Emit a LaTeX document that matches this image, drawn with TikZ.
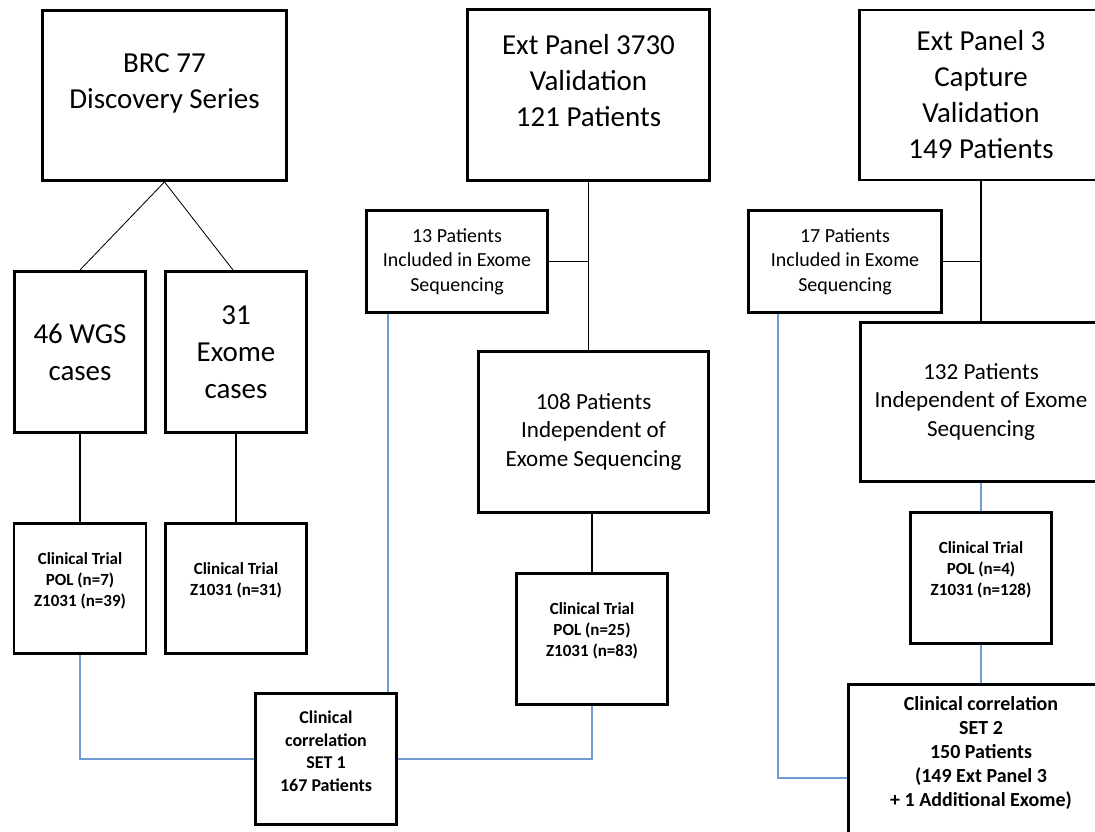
\documentclass[tikz,border=0pt]{standalone}
\usepackage{fontspec}
\setmainfont{Carlito}
\definecolor{linkblue}{RGB}{112, 155, 208}
\usepackage{tikz}
\usetikzlibrary{calc, positioning}

\begin{document}
\begin{tikzpicture}[x=0.025cm, y=-0.025cm,
    box/.style={draw, line width=2pt, inner sep=0pt, align=center},
    bigtxt/.style={font=\fontsize{20.6}{25.6}\selectfont, align=center},
    casetxt/.style={font=\fontsize{20.6}{26.3}\selectfont},
    midtxt/.style={font=\fontsize{16.4}{20.3}\selectfont},
    subtxt/.style={font=\fontsize{14.2}{17.4}\selectfont},
    trialtxt/.style={font=\bfseries\fontsize{12.1}{15}\selectfont, align=center, yshift=0.2cm},
    link/.style={line width=0.8pt},
    bluelink/.style={line width=1pt, linkblue}]
  \useasboundingbox (0,0) rectangle (1095,832);
  \clip (0,0) rectangle (1095,832);

  % Discovery series
  \node[box, minimum width=6.1cm, minimum height=4.25cm,
    label={[bigtxt, yshift=0.3cm]center:{BRC 77\\Discovery Series}}] (brc) at (164.5,95.5) {};
  \node[box, casetxt, minimum width=3.28cm, minimum height=4.03cm] (wgs) at (80,352) {46 WGS\\cases};
  \node[box, casetxt, minimum width=3.53cm, minimum height=4.03cm] (exo) at (236,352) {31\\Exome\\cases};
  \node[box, minimum width=3.3cm, minimum height=3.25cm,
    label={[trialtxt]center:{Clinical Trial\\POL (n=7)\\Z1031 (n=39)}}] (ct1) at (80,588.5) {};
  \node[box, minimum width=3.53cm, minimum height=3.25cm,
    label={[trialtxt]center:{Clinical Trial\\Z1031 (n=31)}}] (ct2) at (236,588.5) {};
  \node[box, minimum width=3.53cm, minimum height=3.28cm,
    label={[trialtxt, font=\bfseries\fontsize{12.8}{16}\selectfont]center:{Clinical\\correlation\\SET 1\\167 Patients}}] (set1) at (326,759) {};

  % Ext Panel 3730
  \node[box, minimum width=6.05cm, minimum height=4.28cm,
    label={[bigtxt, yshift=0.35cm]center:{Ext Panel 3730\\Validation\\121 Patients}}] (ext1) at (588.5,95) {};
  \node[box, subtxt, minimum width=4.53cm, minimum height=2.55cm] (p13) at (457,261.5) {13 Patients\\Included in Exome\\Sequencing};
  \node[box, midtxt, minimum width=5.75cm, minimum height=4.03cm] (p108) at (593.5,432) {108 Patients\\Independent of\\Exome Sequencing};
  \node[box, minimum width=3.78cm, minimum height=3.28cm,
    label={[trialtxt]center:{Clinical Trial\\POL (n=25)\\Z1031 (n=83)}}] (ct3) at (592,639) {};

  % Ext Panel 3
  \node[box, bigtxt, minimum width=6.08cm, minimum height=4.25cm] (ext3) at (981,95) {Ext Panel 3\\Capture\\Validation\\149 Patients};
  \node[box, subtxt, minimum width=4.83cm, minimum height=2.55cm] (p17) at (845,261.5) {17 Patients\\Included in Exome\\Sequencing};
  \node[box, midtxt, minimum width=6.03cm, minimum height=3.98cm] (p132) at (981,402) {132 Patients\\Independent of Exome\\Sequencing};
  \node[box, minimum width=3.53cm, minimum height=3.28cm,
    label={[trialtxt]center:{Clinical Trial\\POL (n=4)\\Z1031 (n=128)}}] (ct4) at (981,578) {};
  \node[box, minimum width=6.63cm, minimum height=4.68cm,
    label={[trialtxt, font=\bfseries\fontsize{14.2}{17.1}\selectfont, yshift=0.425cm]center:{Clinical correlation\\SET 2\\150 Patients\\(149 Ext Panel 3\\+ 1 Additional Exome)}}] (set2) at (981,778) {};

  % Black links
  \draw[line width=0.6pt] (brc.south) -- (wgs.north);
  \draw[line width=0.6pt] (brc.south) -- ([xshift=-0.075cm]exo.north);
  \draw[link] (wgs.south) -- (ct1.north);
  \draw[link] (exo.south) -- (ct2.north);
  \draw[link] (ext1.south) -- (ext1.south |- p108.north);
  \draw[link] (p13.east) -- (p13.east -| ext1.south);
  \draw[link] (ct3.north |- p108.south) -- (ct3.north);
  \draw[link] (ext3.south) -- (p132.north);
  \draw[link] (p17.east) -- (p17.east -| ext3.south);

  % Blue links
  \coordinate (set1in) at ([xshift=-0.25cm]set1.north east);
  \coordinate (p17out) at ([xshift=0.775cm]p17.south west);
  \draw[bluelink] (ct1.south) |- (set1.west);
  \draw[bluelink] (set1.east) -| (ct3.south);
  \draw[bluelink] (set1in |- p13.south) -- (set1in);
  \draw[bluelink] (p132.south) -- (ct4.north);
  \draw[bluelink] (ct4.south) -- (set2.north);
  \draw[bluelink] (p17out) |- (set2.west);
\end{tikzpicture}
\end{document}
